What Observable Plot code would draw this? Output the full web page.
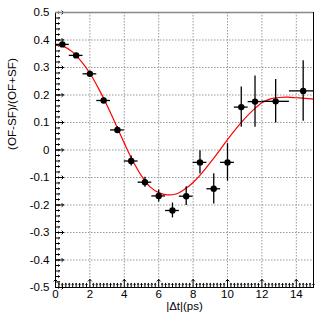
<!DOCTYPE html>
<html>
<head>
<meta charset="utf-8">
<script src="https://cdn.jsdelivr.net/npm/d3@7"></script>
<script src="https://cdn.jsdelivr.net/npm/@observablehq/plot@0.6"></script>
<style>
  html, body { margin: 0; padding: 0; background: #fff; }
  svg { display: block; }
</style>
</head>
<body>
<div id="chart"></div>
<script>
// Measured points
const dtCenters = [0.4, 1.2, 2.0, 2.8, 3.6, 4.4, 5.2, 6.0, 6.8, 7.6, 8.4, 9.2, 10.0, 10.8, 11.6, 12.8, 14.4];
const asymValues = [0.384, 0.344, 0.277, 0.180, 0.073, -0.040, -0.117, -0.167, -0.220, -0.168, -0.045, -0.141, -0.045, 0.156, 0.176, 0.177, 0.215];
const asymErrors = [0.008, 0.008, 0.010, 0.010, 0.012, 0.018, 0.018, 0.022, 0.027, 0.034, 0.042, 0.055, 0.068, 0.073, 0.093, 0.079, 0.110];
const dtHalfWidths = [0.4, 0.4, 0.4, 0.4, 0.4, 0.4, 0.4, 0.4, 0.4, 0.4, 0.4, 0.4, 0.4, 0.4, 0.4, 0.8, 0.8];

// Fit curve
const fitDt = [0, 0.5, 1, 1.5, 2, 2.5, 3, 3.5, 4, 4.5, 5, 5.5, 6, 6.5, 7, 7.5, 8, 8.5, 9, 9.5, 10, 10.5, 11, 11.5, 12, 12.5, 13, 13.5, 14, 14.5, 15];
const fitAsym = [0.382, 0.376, 0.356, 0.322, 0.279, 0.224, 0.162, 0.094, 0.025, -0.040, -0.094, -0.134, -0.155, -0.163, -0.160, -0.143, -0.118, -0.085, -0.046, -0.005, 0.038, 0.078, 0.114, 0.146, 0.172, 0.186, 0.191, 0.192, 0.190, 0.188, 0.185];

// Axis ticks
const xMajorTicks = [0, 2, 4, 6, 8, 10, 12, 14];
const yMajorTicks = [-0.5, -0.4, -0.3, -0.2, -0.1, 0, 0.1, 0.2, 0.3, 0.4, 0.5];
const xMinorTicks = d3.range(0, 76).map(i => +(i * 0.2).toFixed(1)).filter(v => v <= 15);
const yMinorTicks = d3.range(0, 51).map(i => -0.5 + i * 0.02);

const xLabel = "|Δt|(ps)";
const yLabel = "(OF-SF)/(OF+SF)";

const points = dtCenters.map((x, i) => ({x, y: asymValues[i], ey: asymErrors[i], ex: dtHalfWidths[i]}));
const fit = fitDt.map((x, i) => ({x, y: fitAsym[i]}));

const font = "'Liberation Sans', Arial, Helvetica, sans-serif";
const fmtY = d => d === 0 ? "0" : d.toFixed(1);

const chart = Plot.plot({
  width: 332,
  height: 319,
  marginLeft: 55,
  marginRight: 19,
  marginTop: 12,
  marginBottom: 32,
  style: {fontFamily: font, fontSize: "11.5px", background: "white", color: "black"},
  x: {domain: [0, 15]},
  y: {domain: [-0.5, 0.5]},
  marks: [
    Plot.gridX(xMajorTicks.filter(d => d > 0), {stroke: "#999", strokeOpacity: 1, strokeDasharray: "1.5,1.5"}),
    Plot.gridY(yMajorTicks.filter(d => d > -0.5 && d < 0.5), {stroke: "#999", strokeOpacity: 1, strokeDasharray: "1.5,1.5"}),
    // inward ticks
    Plot.vector(xMinorTicks.filter(d => d % 2 !== 0), {x: d => d, frameAnchor: "bottom", length: 4, rotate: 0, anchor: "start", stroke: "black", strokeWidth: 1}),
    Plot.vector(xMajorTicks, {x: d => d, frameAnchor: "bottom", length: 8, rotate: 0, anchor: "start", stroke: "black", strokeWidth: 1}),
    Plot.vector(yMinorTicks, {y: d => d, frameAnchor: "left", length: 4, rotate: 90, anchor: "start", stroke: "black", strokeWidth: 1}),
    Plot.vector(yMajorTicks, {y: d => d, frameAnchor: "left", length: 8, rotate: 90, anchor: "start", stroke: "black", strokeWidth: 1}),
    Plot.axisX(xMajorTicks, {tickSize: 0, tickPadding: 2, label: null, fontSize: 11.5}),
    Plot.axisY(yMajorTicks, {tickSize: 0, tickPadding: 6, label: null, tickFormat: fmtY, fontSize: 11.5}),
    // fit
    Plot.line(fit, {x: "x", y: "y", stroke: "#ff0000", strokeWidth: 1.2, curve: "catmull-rom"}),
    // error bars
    Plot.ruleX(points, {x: "x", y1: d => d.y - d.ey, y2: d => d.y + d.ey, stroke: "black", strokeWidth: 1.3, clip: true}),
    Plot.ruleY(points, {y: "y", x1: d => d.x - d.ex, x2: d => d.x + d.ex, stroke: "black", strokeWidth: 1.3, clip: true}),
    Plot.dot(points, {x: "x", y: "y", r: 3.2, fill: "black", stroke: null}),
    Plot.frame({stroke: "black", strokeWidth: 1}),
    Plot.ruleY([0.5], {stroke: "#888", strokeWidth: 1.5}),
    // axis titles
    Plot.text([xLabel], {text: d => d, frameAnchor: "bottom", dy: 14, lineAnchor: "top", fontSize: 11.5, fill: "black"}),
    Plot.text([yLabel], {text: d => d, frameAnchor: "left", dx: -43, rotate: -90, fontSize: 11.7, fill: "black"})
  ]
});
document.getElementById("chart").appendChild(chart);
</script>
</body>
</html>
